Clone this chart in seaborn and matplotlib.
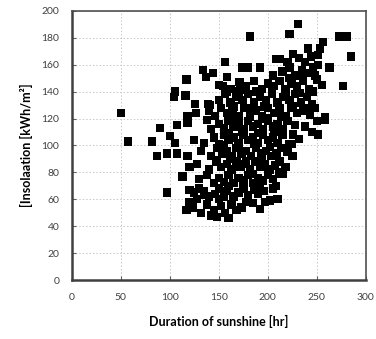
import pandas as pd
import matplotlib
matplotlib.use('Agg')
import matplotlib.pyplot as plt
import seaborn as sns

# Duration of sunshine [hr] and insolation [kWh/m2]
sunshine_hr = [
    # y 45-60
    117, 120, 123, 128, 132, 138, 142, 145, 148, 152, 156, 160, 163, 168, 173, 178, 185, 192, 197, 202, 210, 150, 135,
    # y 60-70
    120, 125, 130, 135, 140, 146, 150, 155, 158, 165, 170, 175, 180, 186, 190, 196, 205, 97,
    # y 70-80
    113, 130, 138, 145, 150, 155, 160, 165, 170, 175, 180, 185, 190, 195, 200, 205, 212, 214,
    # y 80-90
    120, 128, 140, 147, 152, 158, 163, 168, 172, 177, 182, 187, 192, 197, 202, 207, 212, 218,
    # y 90-100
    87, 97, 107, 118, 132, 142, 148, 153, 158, 163, 168, 173, 178, 183, 188, 193, 198, 203, 209, 214, 220, 225,
    # y 100-110
    57, 82, 105, 100, 125, 135, 145, 150, 155, 160, 165, 170, 175, 180, 185, 190, 195, 200, 205, 210, 215, 222,
    224, 226, 232, 245, 251,
    # y 110-120
    90, 107, 118, 138, 142, 150, 155, 160, 165, 170, 175, 180, 185, 190, 195, 200, 205, 210, 215, 220, 228, 238,
    250, 258,
    # y 120-130
    50, 118, 127, 140, 146, 152, 158, 164, 170, 176, 182, 188, 194, 200, 206, 212, 218, 224, 230, 236, 243, 258, 248,
    # y 130-140
    104, 105, 116, 126, 139, 141, 150, 156, 162, 168, 174, 180, 186, 192, 198, 204, 210, 216, 222, 228, 234, 240, 245,
    # y 140-150
    117, 137, 150, 154, 162, 171, 178, 186, 194, 200, 206, 212, 218, 224, 230, 236, 242, 250, 255, 277,
    # y 150-160
    134, 144, 158, 174, 180, 192, 205, 215, 222, 228, 235, 240, 246, 251, 263, 248,
    # y 160-190
    156, 209, 212, 220, 226, 232, 238, 244, 251, 241, 253, 256, 182, 222, 231, 273, 281, 285,
    # dense core of the cloud
    148, 155, 162, 170, 178, 186, 194, 202, 160, 167, 174, 182, 190, 198, 206, 214,
    152, 158, 165, 172, 180, 188, 196, 204, 212, 218, 226, 233, 240, 246,
    185, 200, 215, 230, 170, 160, 192, 208, 222, 236,
]

insolation = [
    # y 45-60
    52, 58, 54, 60, 50, 56, 48, 52, 47, 55, 50, 46, 56, 52, 54, 58, 57, 53, 58, 59, 60, 60, 63,
    # y 60-70
    67, 65, 68, 66, 62, 64, 68, 62, 66, 62, 65, 68, 63, 67, 64, 66, 68, 65,
    # y 70-80
    77, 75, 78, 72, 76, 73, 78, 72, 76, 74, 78, 72, 76, 74, 78, 75, 80, 79,
    # y 80-90
    84, 86, 82, 88, 84, 86, 82, 88, 84, 86, 82, 88, 84, 86, 82, 85, 88, 84,
    # y 90-100
    92, 94, 94, 92, 96, 92, 98, 94, 96, 92, 98, 94, 96, 92, 98, 94, 96, 92, 94, 98, 95, 92,
    # y 100-110
    103, 103, 102, 107, 104, 102, 106, 101, 108, 104, 106, 102, 108, 104, 106, 102, 108, 104, 106, 102, 108, 101,
    101, 108, 105, 110, 108,
    # y 110-120
    113, 115, 117, 119, 112, 116, 113, 118, 114, 116, 112, 118, 114, 116, 112, 118, 114, 116, 112, 118, 115, 114,
    118, 119,
    # y 120-130
    124, 122, 124, 126, 122, 128, 124, 126, 122, 128, 124, 126, 122, 128, 124, 126, 122, 128, 124, 126, 123, 121, 128,
    # y 130-140
    136, 140, 137, 131, 131, 130, 134, 138, 132, 136, 134, 138, 132, 136, 134, 138, 132, 136, 134, 138, 132, 136, 131,
    # y 140-150
    149, 151, 145, 144, 142, 147, 144, 148, 142, 146, 144, 148, 142, 146, 144, 148, 142, 149, 145, 144,
    # y 150-160
    156, 154, 151, 158, 158, 158, 152, 155, 158, 152, 156, 154, 158, 160, 158, 152,
    # y 160-190
    162, 164, 164, 162, 168, 165, 162, 166, 167, 172, 172, 177, 181, 183, 190, 181, 181, 166,
    # dense core of the cloud
    89, 100, 90, 99, 88, 101, 90, 99, 109, 120, 110, 121, 109, 120, 110, 121,
    128, 140, 129, 141, 128, 140, 129, 141, 128, 140, 129, 139, 128, 140,
    79, 80, 79, 152, 140, 70, 70, 70, 150, 150,
]

x_ticks = [0, 50, 100, 150, 200, 250, 300]
y_ticks = [0, 20, 40, 60, 80, 100, 120, 140, 160, 180, 200]

df = pd.DataFrame({'sunshine': sunshine_hr, 'insolation': insolation})

plt.rcParams['font.family'] = ['Lato', 'DejaVu Sans']

fig = plt.figure(figsize=(3.76, 3.39), dpi=100)
ax = fig.add_axes([0.191, 0.174, 0.782, 0.794])

sns.scatterplot(data=df, x='sunshine', y='insolation', marker='s', s=36,
                color='black', edgecolor='none', ax=ax, zorder=3)

ax.set_xlim(0, 300)
ax.set_ylim(0, 200)
ax.set_xticks(x_ticks)
ax.set_yticks(y_ticks)
ax.grid(True, color='#c8c8c8', linestyle=(0, (1.5, 2)), linewidth=0.7, zorder=0)
ax.set_axisbelow(True)
for side in ['left', 'bottom']:
    ax.spines[side].set_linewidth(1.8)
    ax.spines[side].set_color('#404040')
for side in ['top', 'right']:
    ax.spines[side].set_linewidth(1.2)
    ax.spines[side].set_color('#505050')
ax.tick_params(direction='in', length=3, width=0.8, color='#606060',
               labelsize=7.5, labelcolor='#404040', pad=9)

ax.set_xlabel('Duration of sunshine [hr]', fontsize=9, fontweight='bold', labelpad=10)
ax.set_ylabel('[Insolaation [kWh/m²]', fontsize=9, fontweight='bold', labelpad=6)

fig.savefig('out.png', dpi=100)
